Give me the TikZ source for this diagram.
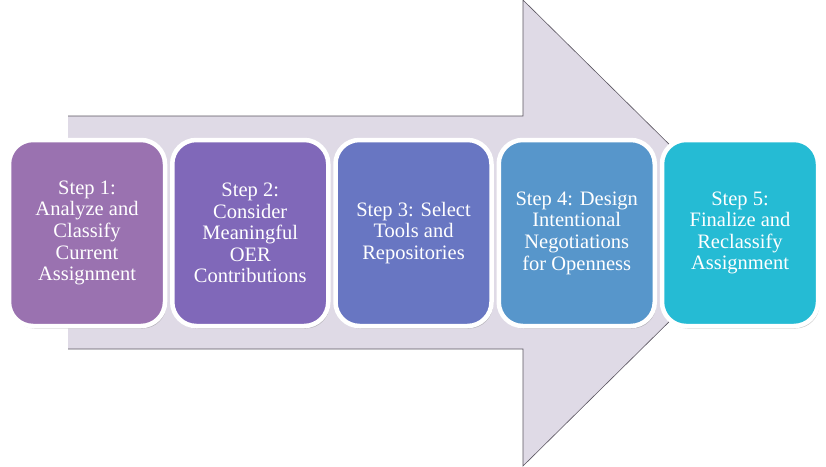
\documentclass[tikz,border=0pt]{standalone}
\usepackage{fontspec}
\setmainfont{Liberation Serif}
\usetikzlibrary{shadows}
\definecolor{arrowfill}{HTML}{DFDAE6}
\definecolor{arrowline}{HTML}{5A5560}
\definecolor{cA}{HTML}{9A72B0}
\definecolor{cB}{HTML}{8068B9}
\definecolor{cC}{HTML}{6876C2}
\definecolor{cD}{HTML}{5796CB}
\definecolor{cE}{HTML}{25BBD4}
\tikzset{
  stepbox/.style={rectangle, rounded corners=24pt, draw=white, line width=4.5pt,
    minimum width=156pt, minimum height=186pt, inner sep=0pt, text=white,
    align=center, font=\fontsize{20.5}{21.6}\selectfont,
    drop shadow={opacity=0.35, shadow xshift=1.5pt, shadow yshift=-2.5pt, fill=black!60}},
}
\begin{document}
\begin{tikzpicture}[x=1pt, y=-1pt]
\useasboundingbox (0,0) rectangle (826,466);
\fill[arrowfill] (68,116) -- (523,116) -- (523,0) -- (759,233) -- (523,466) -- (523,349) -- (68,349) -- cycle;
\draw[arrowline, line width=0.6pt] (68,116) -- (523,116) -- (523,0) -- (759,233) -- (523,466) -- (523,349) -- (68,349);
\node[stepbox, fill=cA] (s1) at (87,233) {Step 1:\\Analyze and\\Classify\\Current\\Assignment};
\node[stepbox, fill=cB] (s2) at (250.25,233) {Step 2:\\Consider\\Meaningful\\OER\\Contributions};
\node[stepbox, fill=cC] (s3) at (413.5,233) {Step 3: Select\\Tools and\\Repositories};
\node[stepbox, fill=cD] (s4) at (576.75,233) {Step 4: Design\\Intentional\\Negotiations\\for Openness};
\node[stepbox, fill=cE] (s5) at (740,233) {Step 5:\\Finalize and\\Reclassify\\Assignment};
\end{tikzpicture}
\end{document}
